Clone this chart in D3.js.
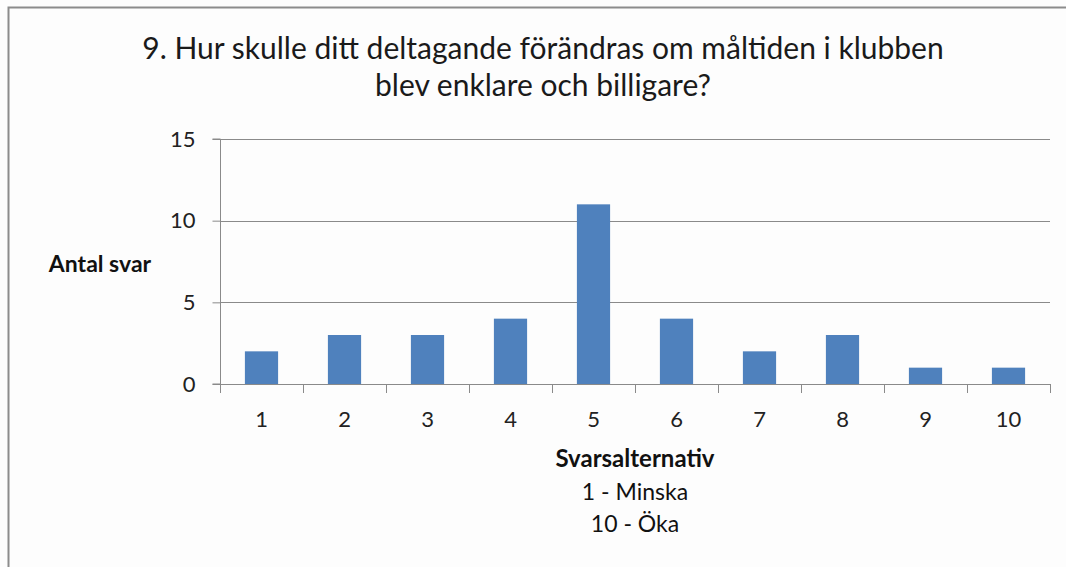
<!DOCTYPE html>
<html><head><meta charset="utf-8">
<script src="https://cdn.jsdelivr.net/npm/d3@7"></script>
<style>
html,body{margin:0;padding:0;background:#fff;}
svg{display:block;font-family:Lato,"Open Sans",sans-serif;}
</style></head>
<body>
<svg id="c" width="1066" height="567"></svg>
<script>
const categories = ["1","2","3","4","5","6","7","8","9","10"];
const values = [2,3,3,4,11,4,2,3,1,1];
const yTicks = [0,5,10,15];
const titleLines = ["9. Hur skulle ditt deltagande förändras om måltiden i klubben","blev enklare och billigare?"];
const yTitle = "Antal svar";
const xTitleLines = ["Svarsalternativ","1 - Minska","10 - Öka"];

const svg = d3.select("#c");
svg.append("rect").attr("x",0).attr("y",0).attr("width",1066).attr("height",567).attr("fill","#fdfdfd");
svg.append("path").attr("d","M8.5,570 V7.5 H1070").attr("fill","none").attr("stroke","#8c8c8c").attr("stroke-width",2);

const L=220, R=1050, T=139, B=384;
const x = d3.scaleBand().domain(categories).range([L,R]).paddingInner(0.6).paddingOuter(0.3);
const xb = d3.scaleBand().domain(categories).range([L,R]);
const y = d3.scaleLinear().domain([0,15]).range([B,T]);

// gridlines
svg.append("g").selectAll("line").data(yTicks.filter(d=>d>0)).join("line")
  .attr("x1",L).attr("x2",R).attr("y1",d=>Math.round(y(d))+0.5).attr("y2",d=>Math.round(y(d))+0.5)
  .attr("stroke","#8a8a8a").attr("stroke-width",1);

// bars
svg.append("g").selectAll("rect").data(values).join("rect")
  .attr("x",(d,i)=>x(categories[i])).attr("width",x.bandwidth())
  .attr("y",d=>y(d)).attr("height",d=>B-y(d)).attr("fill","#4f81bd");

// y axis
const ya = svg.append("g").attr("transform",`translate(${L+0.5},0)`)
  .call(d3.axisLeft(y).tickValues(yTicks).tickSize(8).tickPadding(17));
ya.select(".domain").attr("d",`M-8,${B}H0V${T}H-8`).attr("stroke","#8a8a8a");
ya.selectAll(".tick line").attr("stroke","#8a8a8a");
ya.selectAll("text").attr("font-size",22).attr("fill","#222").attr("font-family","Lato");

// x axis
const xa = svg.append("g").attr("transform",`translate(0,${B+0.5})`)
  .call(d3.axisBottom(xb).tickSize(0).tickPadding(27));
xa.select(".domain").attr("d",`M${L},0H${R}`).attr("stroke","#8a8a8a");
xa.selectAll("text").attr("font-size",22).attr("fill","#222").attr("font-family","Lato");
const bounds = d3.range(categories.length+1).map(i=>L+i*xb.step());
svg.append("g").selectAll("line").data(bounds).join("line")
  .attr("x1",d=>Math.round(d)+0.5).attr("x2",d=>Math.round(d)+0.5)
  .attr("y1",B).attr("y2",B+9).attr("stroke","#8a8a8a");

// title
const tY=[59,96];
svg.append("g").selectAll("text").data(titleLines).join("text")
  .attr("x",543).attr("y",(d,i)=>tY[i]).attr("text-anchor","middle")
  .attr("font-size",30).attr("fill","#1a1a1a").text(d=>d);

svg.append("text").attr("x",100).attr("y",272).attr("text-anchor","middle")
  .attr("font-size",23).attr("font-weight","bold").attr("fill","#111").text(yTitle);

const xtY=[467,500,532];
svg.append("g").selectAll("text").data(xTitleLines).join("text")
  .attr("x",635).attr("y",(d,i)=>xtY[i]).attr("text-anchor","middle")
  .attr("font-size",(d,i)=>i===0?24:23).attr("font-weight",(d,i)=>i===0?"bold":"normal").attr("fill","#111").text(d=>d);
</script>
</body></html>
